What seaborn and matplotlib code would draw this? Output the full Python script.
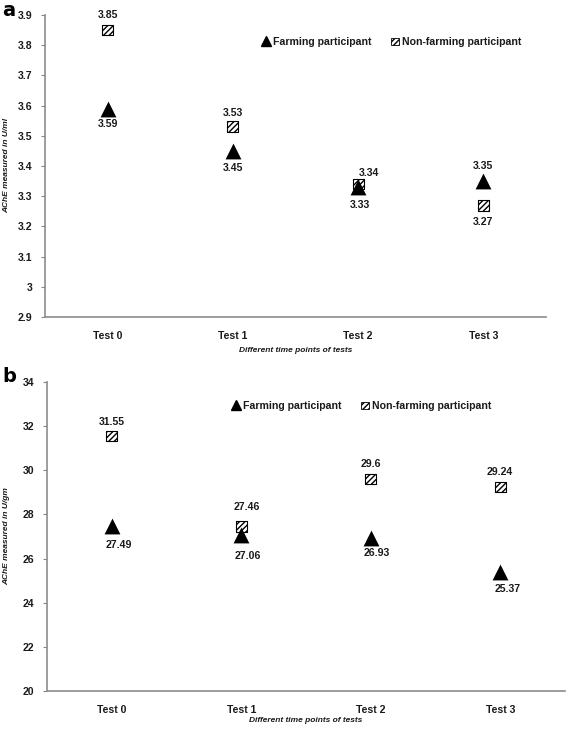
import matplotlib
matplotlib.use("Agg")
import matplotlib.pyplot as plt
import seaborn as sns
import pandas as pd
from matplotlib.lines import Line2D
from matplotlib.patches import Patch

tests = ["Test 0", "Test 1", "Test 2", "Test 3"]

farming_a = [3.59, 3.45, 3.33, 3.35]
nonfarming_a = [3.85, 3.53, 3.34, 3.27]
farming_b = [27.49, 27.06, 26.93, 25.37]
nonfarming_b = [31.55, 27.46, 29.6, 29.24]

yticks_a = [2.9, 3.0, 3.1, 3.2, 3.3, 3.4, 3.5, 3.6, 3.7, 3.8, 3.9]
yticklabels_a = ["2.9", "3", "3.1", "3.2", "3.3", "3.4", "3.5", "3.6", "3.7", "3.8", "3.9"]
yticks_b = [20, 22, 24, 26, 28, 30, 32, 34]
yticklabels_b = ["20", "22", "24", "26", "28", "30", "32", "34"]

series_names = ["Farming participant", "Non-farming participant"]
ylabel_a = "AChE measured in U/ml"
ylabel_b = "AChE measured in U/gm"
xlabel = "Different time points of tests"

# label offsets (points; positive y = below marker)
off_fa = [(0, 11), (0, 12), (1, 13), (0, -11)]
off_na = [(0, -11), (0, -10), (8, -8), (0, 12)]
off_fb = [(5, 14), (5, 15), (4, 11), (5, 12)]
off_nb = [(0, -10), (4, -14), (0, -11), (0, -11)]

sns.set_theme(style="white")
FONT = ["Liberation Sans", "DejaVu Sans"]
plt.rcParams["font.family"] = FONT
plt.rcParams["hatch.linewidth"] = 1.0
plt.rcParams["hatch.color"] = "black"

fig = plt.figure(figsize=(5.67, 7.30), dpi=100)
W, H = 567, 730


def ax_rect(l, r, t, b):
    return [l / W, 1 - b / H, (r - l) / W, (b - t) / H]


ax_a = fig.add_axes(ax_rect(45, 546, 15, 317))
ax_b = fig.add_axes(ax_rect(47, 565, 382, 691))

textcol = "#1a1a1a"
FS = 7.6


def draw(ax, farm, nonfarm, yt, ytl, off_f, off_n, leg_anchor):
    df_f = pd.DataFrame({"test": tests, "value": farm})
    df_n = pd.DataFrame({"test": tests, "value": nonfarm})
    sns.scatterplot(data=df_n, x="test", y="value", marker="s", s=60,
                    color="white", edgecolor="black", linewidth=0.8,
                    hatch="//////", ax=ax, zorder=3)
    sns.scatterplot(data=df_f, x="test", y="value", marker="^", s=130,
                    color="black", edgecolor="black", linewidth=0, ax=ax,
                    zorder=4)
    for i, v in enumerate(farm):
        ax.annotate(f"{v:g}", (i, v), xytext=(off_f[i][0], -off_f[i][1]),
                    textcoords="offset points", ha="center", va="center",
                    fontsize=FS, fontweight="bold", color=textcol)
    for i, v in enumerate(nonfarm):
        ax.annotate(f"{v:g}", (i, v), xytext=(off_n[i][0], -off_n[i][1]),
                    textcoords="offset points", ha="center", va="center",
                    fontsize=FS, fontweight="bold", color=textcol)
    ax.set_xlim(-0.5, 3.5)
    ax.set_ylim(yt[0], yt[-1])
    ax.set_yticks(yt)
    ax.set_yticklabels(ytl)
    ax.set_xticks(range(len(tests)))
    ax.set_xticklabels(tests)
    for lab in ax.get_xticklabels() + ax.get_yticklabels():
        lab.set_fontweight("bold")
        lab.set_fontsize(FS)
        lab.set_color(textcol)
    ax.tick_params(axis="y", left=True, length=3, width=0.8, color="#888888", pad=6)
    ax.tick_params(axis="x", bottom=False, pad=4)
    for s in ["top", "right"]:
        ax.spines[s].set_visible(False)
    for s in ["left", "bottom"]:
        ax.spines[s].set_color("#8c8c8c")
        ax.spines[s].set_linewidth(1.2)
    ax.set_ylabel("")
    ax.set_xlabel("")
    handles = [
        Line2D([], [], marker="^", color="black", linestyle="none", markersize=7),
        Patch(facecolor="white", edgecolor="black", hatch="//////", linewidth=0.6),
    ]
    leg = ax.legend(handles, series_names, ncol=2, frameon=False,
                    loc="center left", bbox_to_anchor=leg_anchor,
                    bbox_transform=fig.transFigure, fontsize=FS,
                    handlelength=0.7, handleheight=0.7, handletextpad=0.3,
                    columnspacing=1.9, borderaxespad=0, borderpad=0)
    for t in leg.get_texts():
        t.set_fontweight("bold")
        t.set_color(textcol)


draw(ax_a, farming_a, nonfarming_a, yticks_a, yticklabels_a,
     off_fa, off_na, (262 / W, 1 - 42 / H))
draw(ax_b, farming_b, nonfarming_b, yticks_b, yticklabels_b,
     off_fb, off_nb, (232 / W, 1 - 406 / H))

lab_kw = dict(fontsize=6.0, fontstyle="italic", fontweight="bold", color=textcol)
fig.text(7 / W, 1 - 165 / H, ylabel_a, rotation=90, ha="center", va="center", **lab_kw)
fig.text(7 / W, 1 - 536 / H, ylabel_b, rotation=90, ha="center", va="center", **lab_kw)
fig.text(296 / W, 1 - 351 / H, xlabel, ha="center", va="center", **lab_kw)
fig.text(306 / W, 1 - 721 / H, xlabel, ha="center", va="center", **lab_kw)

fig.text(2 / W, 1 - 10 / H, "a", fontsize=14, fontweight="bold", va="center", color="black",
         family="DejaVu Sans")
fig.text(2 / W, 1 - 376 / H, "b", fontsize=14, fontweight="bold", va="center", color="black",
         family="DejaVu Sans")

fig.savefig("out.png", dpi=100)
